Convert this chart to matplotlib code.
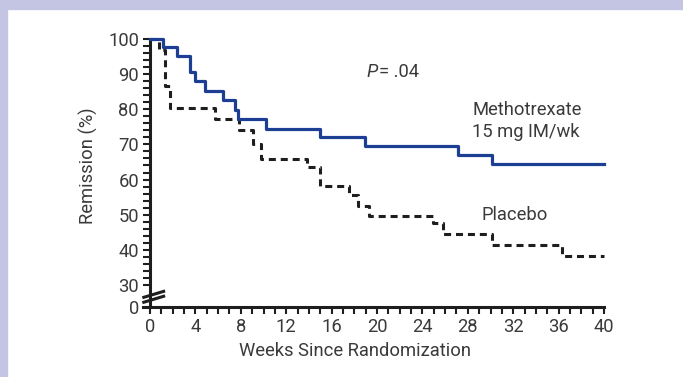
import matplotlib
matplotlib.use('Agg')
import matplotlib.pyplot as plt
import matplotlib.font_manager as fm
from matplotlib.patches import Rectangle

# Kaplan-Meier style step data
mtx_weeks = [0, 1.15, 2.35, 3.55, 3.95, 4.85, 6.45, 7.5, 7.75, 10.2, 15.0, 18.9, 27.1, 30.1, 40]
mtx_remission = [100, 97.6, 95.2, 90.6, 88.0, 85.3, 82.7, 79.8, 77.2, 74.4, 72.2, 69.5, 66.9, 64.3, 64.3]

pbo_weeks = [0, 0.75, 1.3, 1.75, 5.7, 7.8, 9.1, 9.75, 13.8, 15.0, 17.5, 18.3, 19.3, 24.9, 25.8, 30.1, 36.3, 40]
pbo_remission = [100, 96.9, 86.5, 80.3, 77.2, 74.1, 70.0, 65.9, 63.7, 58.2, 55.5, 52.5, 49.5, 47.6, 44.5, 41.5, 38.2, 38.2]

x_major = [0, 4, 8, 12, 16, 20, 24, 28, 32, 36, 40]
y_major = [30, 40, 50, 60, 70, 80, 90, 100]
ZERO_POS = 23.75   # where "0" sits below the axis break

TEXT = '#3a3a3a'
BLUE = '#1c3f94'
SIZE = 13.2


def fp(style='normal'):
    return fm.FontProperties(family='Roboto', style=style, size=SIZE)


fig = plt.figure(figsize=(6.83, 3.77), dpi=100)
fig.patches.append(Rectangle((0, 368 / 377), 1, 9 / 377, transform=fig.transFigure,
                             color='#c4c5e2', zorder=0))
fig.patches.append(Rectangle((0, 0), 7 / 683, 1, transform=fig.transFigure,
                             color='#c4c5e2', zorder=0))

ax = fig.add_axes([0.2097, 0.1857, 0.6797, 0.7157])
ax.set_xlim(-0.6, 40.3)
ax.set_ylim(ZERO_POS, 100.5)

ax.step(mtx_weeks, mtx_remission, where='post', color=BLUE, lw=2.3, zorder=3)
pl, = ax.step(pbo_weeks, pbo_remission, where='post', color='#1e1e1e', lw=2.2, zorder=2)
pl.set_dashes([2.3, 1.6])

for s in ['top', 'right']:
    ax.spines[s].set_visible(False)
ax.spines['left'].set_position(('data', 0))
ax.spines['left'].set_bounds(ZERO_POS, 100)
ax.spines['bottom'].set_bounds(-0.6, 40)
for s in ['left', 'bottom']:
    ax.spines[s].set_linewidth(2.2)
    ax.spines[s].set_color('#1e1e1e')

ax.set_xticks(x_major)
ax.set_xticklabels([str(w) for w in x_major], fontproperties=fp())
ax.set_xticks([w for w in range(0, 41) if w not in x_major], minor=True)
ax.set_yticks([ZERO_POS] + y_major)
ax.set_yticklabels(['0'] + [str(v) for v in y_major], fontproperties=fp())
ax.set_yticks([v for v in range(32, 100, 2) if v not in y_major], minor=True)
ax.tick_params(which='both', direction='out', length=5, width=1.5, color='#1e1e1e',
               labelcolor=TEXT, pad=3)

# axis break
for y0, y1 in [(26.5, 28.2), (25.1, 26.8)]:
    ax.plot([-0.55, 1.2], [y0, y1], color='#1e1e1e', lw=2.2, clip_on=False, zorder=4)

ax.set_xlabel('Weeks Since Randomization', fontproperties=fp(), color=TEXT)
ax.xaxis.set_label_coords(0.456, -0.128)
ax.set_ylabel('Remission (%)', fontproperties=fp(), color=TEXT)
ax.yaxis.set_label_coords(-0.097, 0.523)

ax.text(19.1, 90.6, 'P', fontproperties=fp('italic'), color=TEXT, va='center')
ax.text(20.15, 90.6, '= .04', fontproperties=fp(), color=TEXT, va='center')
ax.text(28.4, 79.8, 'Methotrexate', fontproperties=fp(), color=TEXT, va='center')
ax.text(28.4, 73.6, '15 mg IM/wk', fontproperties=fp(), color=TEXT, va='center')
ax.text(29.2, 50.0, 'Placebo', fontproperties=fp(), color=TEXT, va='center')

fig.savefig('out.png', dpi=100)
